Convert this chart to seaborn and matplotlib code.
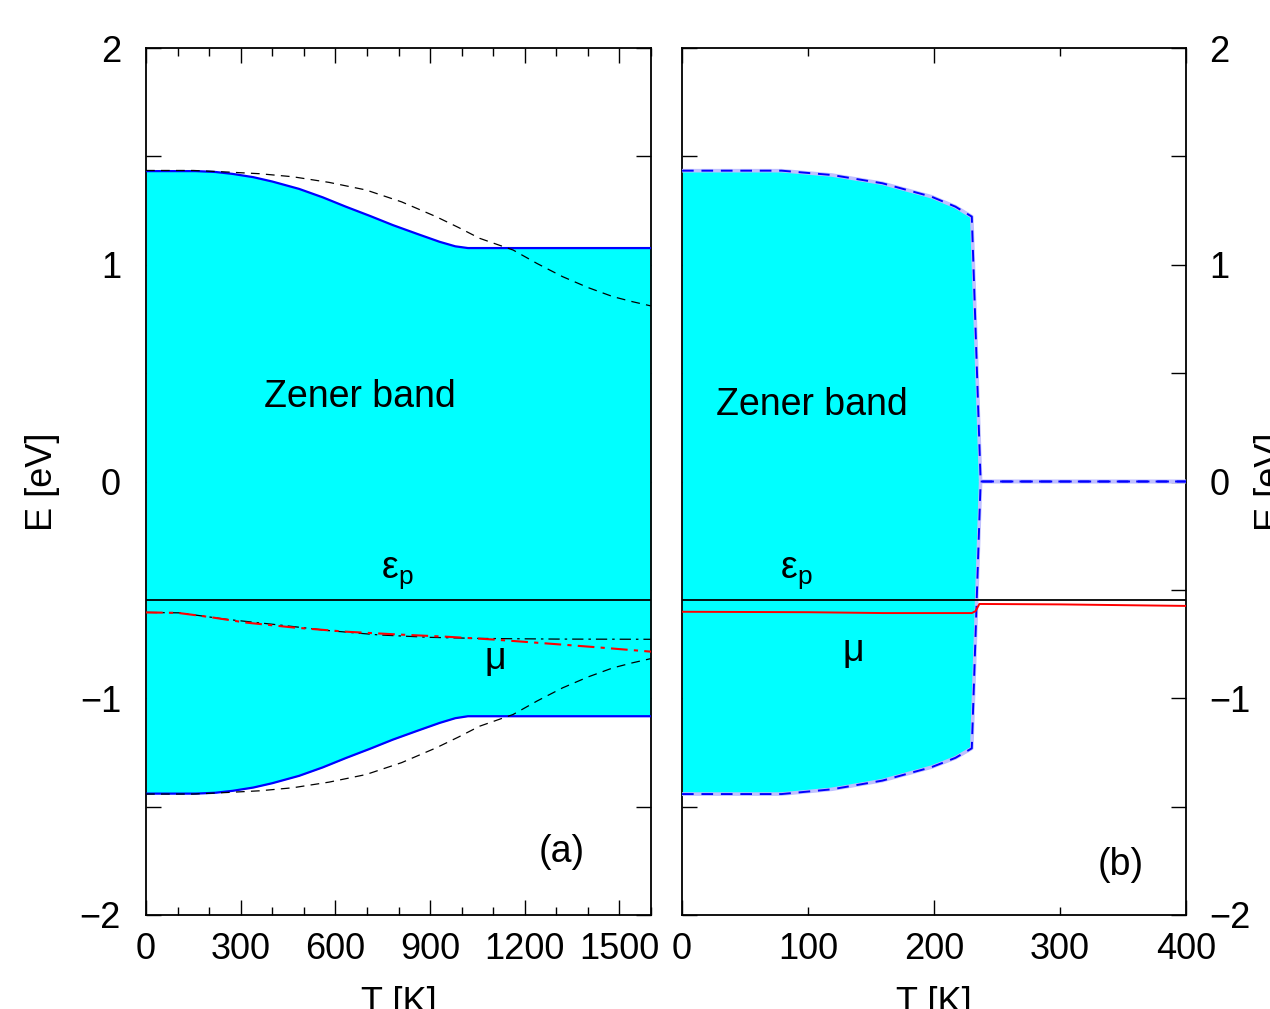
import numpy as np
import pandas as pd
import matplotlib
matplotlib.use("Agg")
import matplotlib.pyplot as plt
import seaborn as sns
from matplotlib.ticker import MultipleLocator, FixedLocator, FixedFormatter

sns.set_theme(style="ticks")
plt.rcParams['font.family'] = ['Liberation Sans', 'DejaVu Sans']
plt.rcParams['mathtext.fontset'] = 'custom'
plt.rcParams['mathtext.rm'] = 'Liberation Sans'
plt.rcParams['mathtext.it'] = 'Liberation Sans:italic'
plt.rcParams['text.color'] = 'black'
plt.rcParams['axes.labelcolor'] = 'black'

# ---------------- panel (a) data ----------------
T_a_band = [0, 158, 220, 275, 340, 400, 485, 560, 633, 710, 782, 860, 930, 980, 1020, 1600]
E_a_upper = [1.432, 1.432, 1.428, 1.419, 1.404, 1.384, 1.350, 1.311, 1.268, 1.225, 1.183,
             1.142, 1.106, 1.085, 1.077, 1.077]
E_a_lower = [-1.440, -1.440, -1.436, -1.427, -1.412, -1.392, -1.358, -1.319, -1.276, -1.233,
             -1.191, -1.150, -1.114, -1.092, -1.083, -1.083]

T_a_dash = [0, 150, 254, 360, 465, 580, 697, 810, 919, 990, 1057, 1163, 1240, 1320, 1400,
            1479, 1540, 1600]
E_a_dash_up = [1.435, 1.435, 1.428, 1.420, 1.406, 1.380, 1.345, 1.290, 1.222, 1.172, 1.122,
               1.068, 1.005, 0.945, 0.895, 0.853, 0.830, 0.810]
E_a_dash_lo = [-1.442, -1.442, -1.435, -1.427, -1.413, -1.387, -1.352, -1.297, -1.229, -1.179,
               -1.129, -1.075, -1.012, -0.952, -0.902, -0.860, -0.837, -0.817]

T_a_mu = [0, 100, 200, 317, 470, 634, 800, 951, 1100, 1268, 1430, 1600]
E_a_mu = [-0.604, -0.606, -0.625, -0.651, -0.674, -0.693, -0.706, -0.716, -0.729, -0.747,
          -0.765, -0.785]

T_a_mu2 = [0, 106, 250, 422, 580, 739, 900, 1055, 1300, 1600]
E_a_mu2 = [-0.604, -0.606, -0.635, -0.662, -0.688, -0.708, -0.719, -0.724, -0.727, -0.728]

E_p = -0.548

# ---------------- panel (b) data ----------------
T_b_band = [0, 79, 119, 159, 198, 217, 230, 237, 400]
E_b_upper = [1.434, 1.434, 1.414, 1.376, 1.314, 1.268, 1.222, 0.0, 0.0]
E_b_lower = [-1.442, -1.442, -1.420, -1.380, -1.318, -1.275, -1.231, 0.0, 0.0]

T_b_mu = [0, 100, 160, 230, 233, 236, 300, 400]
E_b_mu = [-0.601, -0.603, -0.607, -0.607, -0.598, -0.565, -0.567, -0.574]

a_xticks = [0, 300, 600, 900, 1200, 1500]
y_ticks = [-2, -1, 0, 1, 2]

FS = 26
FT = 27
fig = plt.figure(figsize=(12.70, 10.09), dpi=100)
axA = fig.add_axes([146/1270, 1-915/1009, 505/1270, 867/1009])
axB = fig.add_axes([682/1270, 1-915/1009, 504/1270, 867/1009])

cyan = '#00ffff'
blue = '#0000ff'

# ---- panel (a)
axA.fill_between(T_a_band, E_a_upper, E_a_lower, color=cyan, lw=0, zorder=1)
sns.lineplot(x=T_a_band, y=E_a_upper, ax=axA, color=blue, lw=1.6, zorder=3)
sns.lineplot(x=T_a_band, y=E_a_lower, ax=axA, color=blue, lw=1.6, zorder=3)
sns.lineplot(x=T_a_dash, y=E_a_dash_up, ax=axA, color='black', lw=0.9, zorder=4).lines[-1].set_dashes((7, 5))
sns.lineplot(x=T_a_dash, y=E_a_dash_lo, ax=axA, color='black', lw=0.9, zorder=4).lines[-1].set_dashes((7, 5))
sns.lineplot(x=T_a_mu2, y=E_a_mu2, ax=axA, color='black', lw=0.9, zorder=4).lines[-1].set_dashes((9, 4, 2, 4))
sns.lineplot(x=T_a_mu, y=E_a_mu, ax=axA, color='red', lw=1.5, zorder=5).lines[-1].set_dashes((8, 3, 2, 3))
axA.axhline(E_p, color='black', lw=1.3, zorder=5)

axA.text(678, 0.39, 'Zener band', fontsize=FT, ha='center', va='center', zorder=6)
axA.text(795, -0.42, r'$\mathrm{ε}_\mathrm{p}$', fontsize=FT, ha='center', va='center', zorder=6)
axA.text(1106, -0.82, 'μ', fontsize=FT, ha='center', va='center', zorder=6)
axA.text(1318, -1.71, '(a)', fontsize=FT, ha='center', va='center', zorder=6)

axA.set_xlim(0, 1600)
axA.set_ylim(-2, 2)
axA.xaxis.set_major_locator(FixedLocator(a_xticks))
axA.xaxis.set_major_formatter(FixedFormatter([str(t) for t in a_xticks]))
axA.xaxis.set_minor_locator(MultipleLocator(100))
axA.set_xlabel('T [K]', fontsize=FS, labelpad=14)
axA.set_ylabel('E [eV]', fontsize=FS, labelpad=14)

# ---- panel (b)
axB.fill_between(T_b_band, E_b_upper, E_b_lower, color=cyan, lw=0, zorder=1)
for yy in (E_b_upper, E_b_lower):
    sns.lineplot(x=T_b_band, y=yy, ax=axB, color='#c0c0ff', lw=2.6, zorder=3)
    sns.lineplot(x=T_b_band, y=yy, ax=axB, color=blue, lw=1.4, zorder=4).lines[-1].set_dashes((6, 4))
axB.axhline(E_p, color='black', lw=1.3, zorder=5)
sns.lineplot(x=T_b_mu, y=E_b_mu, ax=axB, color='red', lw=1.4, zorder=6)

axB.text(103, 0.353, 'Zener band', fontsize=FT, ha='center', va='center', zorder=6)
axB.text(91, -0.42, r'$\mathrm{ε}_\mathrm{p}$', fontsize=FT, ha='center', va='center', zorder=6)
axB.text(136, -0.78, 'μ', fontsize=FT, ha='center', va='center', zorder=6)
axB.text(348, -1.77, '(b)', fontsize=FT, ha='center', va='center', zorder=6)

axB.set_xlim(0, 400)
axB.set_ylim(-2, 2)
axB.xaxis.set_major_locator(FixedLocator([0, 200, 400]))
axB.xaxis.set_major_formatter(FixedFormatter(['0', '200', '400']))
axB.xaxis.set_minor_locator(FixedLocator([100, 300]))
axB.xaxis.set_minor_formatter(FixedFormatter(['100', '300']))
axB.set_xlabel('T [K]', fontsize=FS, labelpad=14)
axB.yaxis.set_label_position('right')
axB.set_ylabel('E [eV]', fontsize=FS, labelpad=2, rotation=90)

for ax in (axA, axB):
    ax.yaxis.set_major_locator(FixedLocator(y_ticks))
    ax.yaxis.set_major_formatter(FixedFormatter([f'{t}'.replace('-', '\u2212') for t in y_ticks]))
    ax.yaxis.set_minor_locator(MultipleLocator(0.5))
    ax.tick_params(which='both', direction='in', top=True, right=True, labelsize=FS,
                   colors='black', labelcolor='black')
    ax.tick_params(axis='x', which='major', length=11, width=1.0, pad=12)
    ax.tick_params(axis='x', which='minor', length=6, width=1.0, pad=12, labelsize=FS)
    ax.tick_params(axis='y', which='both', length=11, width=1.0, pad=18)
    for s in ax.spines.values():
        s.set_linewidth(1.3)
        s.set_color('black')
    ax.set_facecolor('white')

axB.tick_params(axis='y', which='both', labelleft=False, labelright=True, pad=17)

fig.savefig('out.png', dpi=100, facecolor='white')
